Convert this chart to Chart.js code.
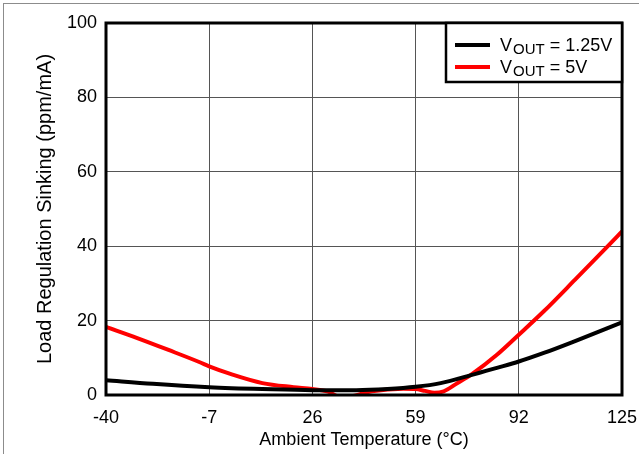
<!DOCTYPE html>
<html>
<head>
<meta charset="utf-8">
<script src="https://cdn.jsdelivr.net/npm/chart.js@4"></script>
<style>
  html, body { margin: 0; padding: 0; background: #fff; }
  #wrap { position: relative; width: 639px; height: 454px; overflow: hidden; }
  #frame { position: absolute; left: 3px; top: 3px; width: 700px; height: 500px;
           border-left: 1px solid #8c8c8c; border-top: 1px solid #8c8c8c; }
  canvas { position: absolute; left: 0; top: 0; }
</style>
</head>
<body>
<div id="wrap">
  <div id="frame"></div>
  <canvas id="chart" width="639" height="454"></canvas>
</div>
<script>
// Số liệu
const temp125 = [-40, -25, -7, 10, 26, 40, 50, 59, 67, 77, 85, 92, 100, 110, 125];
const vout125 = [4.0, 3.0, 2.1, 1.6, 1.3, 1.3, 1.6, 2.2, 3.2, 5.4, 7.3, 9.0, 11.3, 14.5, 19.5];

const temp5 = [-40, -30, -20, -10, -7, 0, 10, 20, 26, 31, 35, 38, 45, 55, 59, 62, 65, 68, 72, 77, 85, 92, 100, 110, 120, 125];
const vout5 = [18.3, 15.3, 12.1, 8.8, 7.7, 5.6, 3.2, 2.1, 1.6, 0.9, -0.6, -0.4, 1.0, 1.7, 1.6, 1.1, 0.6, 1.0, 3.0, 5.6, 10.8, 16.2, 22.5, 31.0, 39.6, 44.0];

const xTicks = [-40, -7, 26, 59, 92, 125];
const yTicks = [0, 20, 40, 60, 80, 100];

const seriesNames = ['1.25V', '5V'];
const seriesColors = ['#000000', '#ff0000'];

function toPoints(xs, ys) {
    return xs.map((x, i) => ({ x: x, y: ys[i] }));
}

// Khung đen quanh vùng vẽ + chú thích có chỉ số dưới
const framePlugin = {
    id: 'frameLegend',
    afterDatasetsDraw(chart) {
        const { ctx, chartArea } = chart;
        ctx.save();
        ctx.strokeStyle = '#000';
        ctx.lineWidth = 3;
        ctx.strokeRect(chartArea.left, chartArea.top,
            chartArea.right - chartArea.left, chartArea.bottom - chartArea.top);

        // hộp chú thích
        const bx = 446, by = chartArea.top, bw = chartArea.right - 446, bh = 59;
        ctx.fillStyle = '#fff';
        ctx.fillRect(bx, by, bw, bh);
        ctx.lineWidth = 2.5;
        ctx.strokeRect(bx, by, bw, bh);

        chart.data.datasets.forEach((ds, i) => {
            const y = 45 + i * 22;
            ctx.strokeStyle = ds.borderColor;
            ctx.lineWidth = 4;
            ctx.beginPath();
            ctx.moveTo(455, y);
            ctx.lineTo(490, y);
            ctx.stroke();

            ctx.fillStyle = '#000';
            ctx.textBaseline = 'alphabetic';
            ctx.textAlign = 'left';
            let x = 500;
            ctx.font = '18px "Liberation Sans", Arial, sans-serif';
            ctx.fillText('V', x, y + 6);
            x += ctx.measureText('V').width + 1;
            ctx.font = '15px "Liberation Sans", Arial, sans-serif';
            ctx.fillText('OUT', x, y + 9);
            x += ctx.measureText('OUT').width;
            ctx.font = '18px "Liberation Sans", Arial, sans-serif';
            ctx.fillText(' = ' + seriesNames[i], x, y + 6);
        });
        ctx.restore();
    }
};

const ctx = document.getElementById('chart').getContext('2d');
const chart = new Chart(ctx, {
    type: 'line',
    data: {
        datasets: [{
            label: 'VOUT = ' + seriesNames[0],
            data: toPoints(temp125, vout125),
            borderColor: seriesColors[0],
            borderWidth: 4,
            pointRadius: 0,
            cubicInterpolationMode: 'monotone'
        }, {
            label: 'VOUT = ' + seriesNames[1],
            data: toPoints(temp5, vout5),
            borderColor: seriesColors[1],
            borderWidth: 4,
            pointRadius: 0,
            cubicInterpolationMode: 'monotone'
        }]
    },
    options: {
        responsive: false,
        animation: false,
        clip: 0,
        layout: { padding: { left: 0, right: 17, top: 23, bottom: 0 } },
        plugins: { legend: { display: false }, tooltip: { enabled: false } },
        scales: {
            x: {
                type: 'linear',
                min: -40,
                max: 125,
                afterBuildTicks: (scale) => { scale.ticks = xTicks.map(v => ({ value: v })); },
                afterFit: (scale) => {
                    scale.height = 59;
                    scale.paddingLeft = 0;
                    scale.paddingRight = 0;
                },
                ticks: {
                    color: '#000',
                    padding: 12,
                    maxRotation: 0,
                    font: { family: '"Liberation Sans", Arial, sans-serif', size: 18 }
                },
                grid: { color: '#555', lineWidth: 1, drawTicks: false },
                border: { display: false },
                title: {
                    display: true,
                    text: 'Ambient Temperature (°C)',
                    color: '#000',
                    padding: { top: 0, bottom: 3 },
                    font: { family: '"Liberation Sans", Arial, sans-serif', size: 18 }
                }
            },
            y: {
                min: 0,
                max: 100,
                afterBuildTicks: (scale) => { scale.ticks = yTicks.map(v => ({ value: v })); },
                afterFit: (scale) => {
                    scale.width = 106;
                    scale.paddingTop = 0;
                    scale.paddingBottom = 0;
                },
                ticks: {
                    color: '#000',
                    padding: 9,
                    font: { family: '"Liberation Sans", Arial, sans-serif', size: 18 }
                },
                grid: { color: '#555', lineWidth: 1, drawTicks: false },
                border: { display: false },
                title: {
                    display: true,
                    text: 'Load Regulation Sinking (ppm/mA)',
                    color: '#000',
                    padding: { top: 33, bottom: 0 },
                    font: { family: '"Liberation Sans", Arial, sans-serif', size: 20 }
                }
            }
        }
    },
    plugins: [framePlugin]
});
</script>
</body>
</html>
